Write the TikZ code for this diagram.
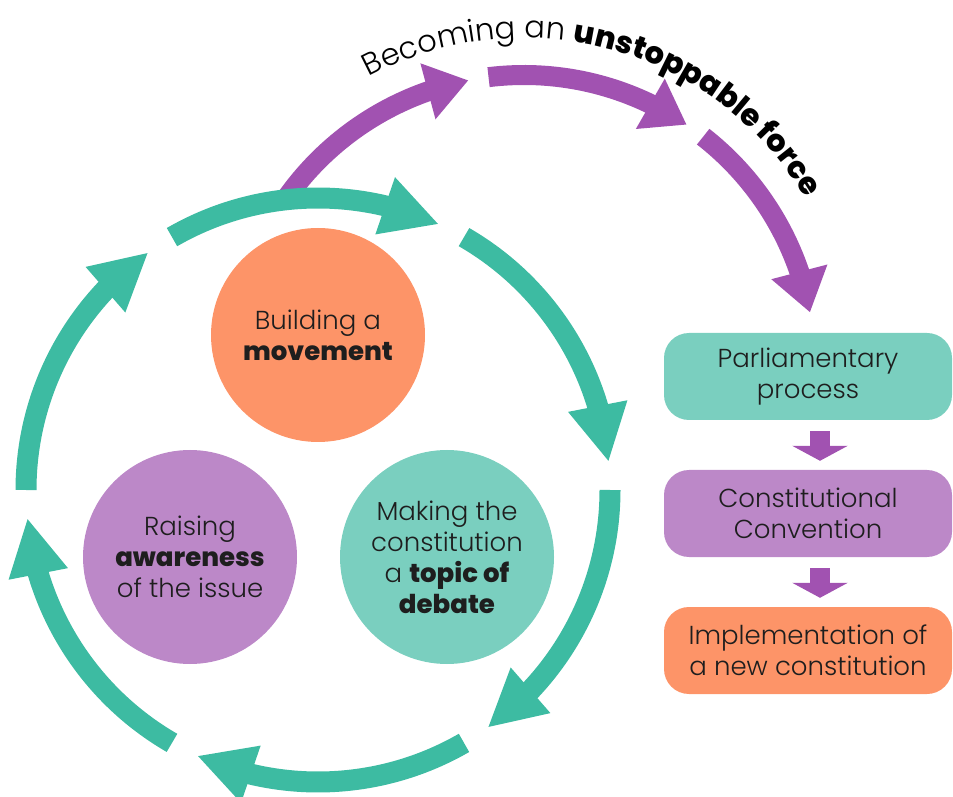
\documentclass[tikz,border=0pt]{standalone}
\usepackage{fontspec}
\setmainfont{Poppins}[UprightFont={* Light},BoldFont={* ExtraBold}]
\usetikzlibrary{arrows.meta,bending,decorations.text}

\definecolor{ringgreen}{RGB}{61,187,162}
\definecolor{forcepurple}{RGB}{161,82,177}
\definecolor{stageorange}{RGB}{253,148,104}
\definecolor{stagepurple}{RGB}{188,136,200}
\definecolor{stageteal}{RGB}{122,207,191}
\definecolor{textgray}{RGB}{30,30,30}

\tikzset{
  stage/.style={circle, minimum size=214pt, inner sep=0pt, align=center, text=textgray,
                font=\fontsize{26}{31}\selectfont},
  phase/.style={rounded corners=25pt, minimum width=288pt, minimum height=87pt, inner sep=0pt,
                align=center, text=textgray, font=\fontsize{26}{31}\selectfont},
  cycle/.style={ringgreen, line width=21pt, -{Triangle[width=56pt,length=57pt,flex]}},
  force/.style={forcepurple, line width=20pt, -{Triangle[width=55pt,length=42pt,flex]}},
  smallarrow/.style={forcepurple, line width=20pt, -{Triangle[width=55pt,length=15pt]}}
}

\begin{document}
\begin{tikzpicture}[x=1pt, y=1pt]
\useasboundingbox (0,0) rectangle (953,796);
\coordinate (gc) at (318,306);
\coordinate (pc) at (524,430);

% unstoppable force
\draw[force] (pc) ++(145:291) arc[start angle=145, end angle=101, radius=291];
\draw[force] (pc) ++(97:291)  arc[start angle=97,  end angle=56,  radius=291];
\draw[force] (pc) ++(52:291)  arc[start angle=52,  end angle=10.6, radius=291];
\path[decorate, decoration={text along path, text align=center,
      text={|\fontsize{30.5}{34}\selectfont|Becoming an |\fontsize{30.5}{34}\selectfont\bfseries|unstoppable force}}]
  (pc) ++(134.5:328) arc[start angle=134.5, end angle=14.5, radius=328];

% cycle
\draw[cycle] (gc) ++(180:292) arc[start angle=180, end angle=125.5, radius=292];
\draw[cycle] (gc) ++(120:292) arc[start angle=120, end angle=65.5,  radius=292];
\draw[cycle] (gc) ++(60:292)  arc[start angle=60,  end angle=5.5,   radius=292];
\draw[cycle] (gc) ++(0:292)   arc[start angle=0,   end angle=-54.5, radius=292];
\draw[cycle] (gc) ++(-60:292) arc[start angle=-60, end angle=-114.5, radius=292];
\draw[cycle] (gc) ++(-120:292) arc[start angle=-120, end angle=-174.5, radius=292];

\node[stage, fill=stageorange] (movement) at (318,461) {Building a\\\textbf{movement}};
\node[stage, fill=stagepurple] (awareness) at (190,239) {Raising\\\textbf{awareness}\\of the issue};
\node[stage, fill=stageteal]   (debate) at (447,239) {Making the\\constitution\\a \textbf{topic of}\\\textbf{debate}};

% right column
\node[phase, fill=stageteal]   (parliament) at (808,419.5) {Parliamentary\\process};
\node[phase, fill=stagepurple] (convention) at (808,282.5) {Constitutional\\Convention};
\node[phase, fill=stageorange] (newconst)   at (808,145.5) {Implementation of\\a new constitution};

\draw[smallarrow] ([xshift=12pt,yshift=-11pt]parliament.south) -- ([xshift=12pt,yshift=9pt]convention.north);
\draw[smallarrow] ([xshift=12pt,yshift=-11pt]convention.south) -- ([xshift=12pt,yshift=9pt]newconst.north);
\end{tikzpicture}
\end{document}
